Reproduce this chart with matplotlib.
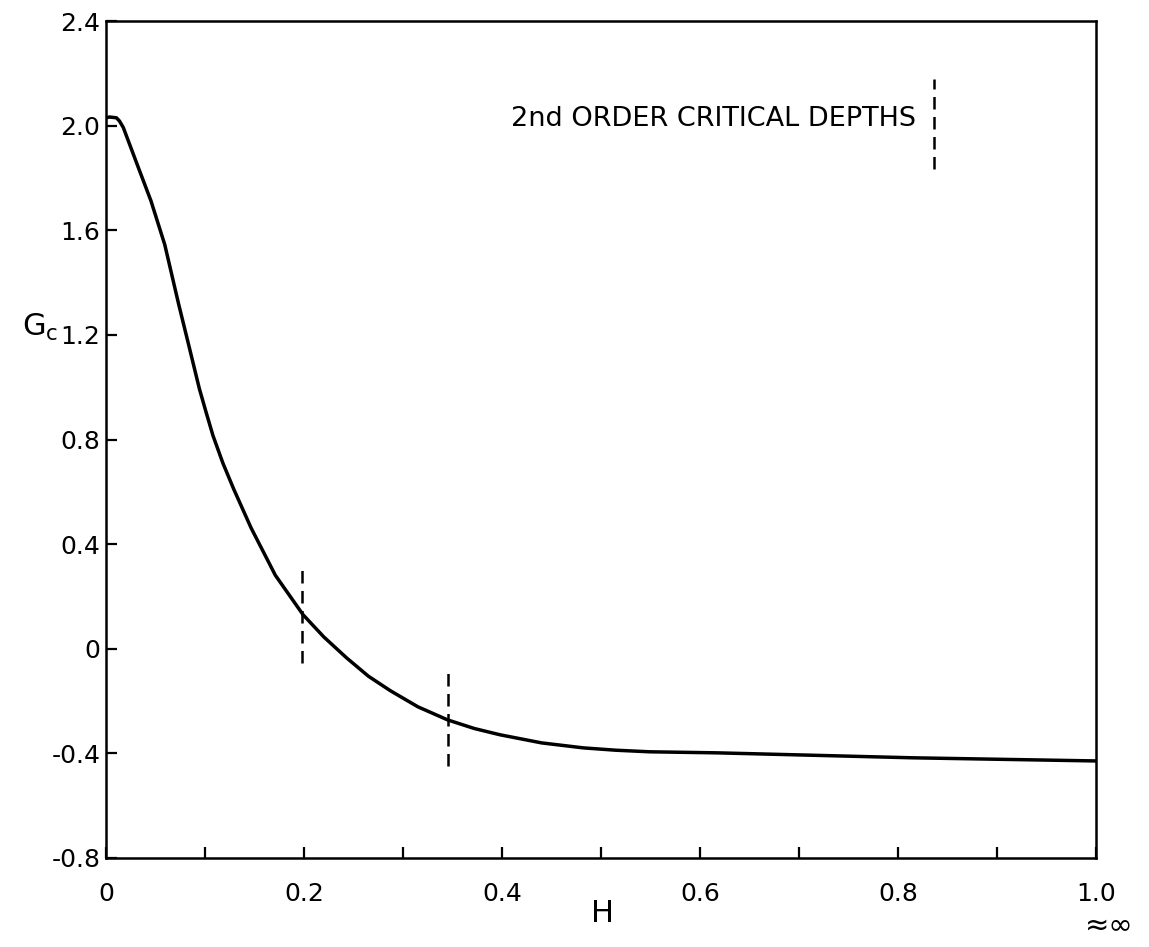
import numpy as np
import matplotlib.pyplot as plt

H = [0.0, 0.0035, 0.0105, 0.0135, 0.0174, 0.0314, 0.0454, 0.0593, 0.0733,
     0.0837, 0.0942, 0.101, 0.108, 0.118, 0.129, 0.1465, 0.171, 0.199, 0.220,
     0.243, 0.265, 0.287, 0.315, 0.345, 0.372, 0.398, 0.44, 0.482, 0.515,
     0.549, 0.617, 0.701, 0.815, 1.0]
Gc = [2.03, 2.033, 2.030, 2.018, 1.993, 1.852, 1.712, 1.545, 1.318,
      1.158, 0.995, 0.905, 0.815, 0.710, 0.610, 0.462, 0.281, 0.130, 0.045,
      -0.035, -0.105, -0.160, -0.222, -0.272, -0.305, -0.329, -0.36, -0.379, -0.388,
      -0.394, -0.398, -0.406, -0.417, -0.429]

# 2nd order critical depth markers: x, y_low, y_high
crit_x = [0.198, 0.345, 0.836]
crit_lo = [-0.055, -0.448, 1.834]
crit_hi = [0.31, -0.085, 2.178]

xticks = [0.0, 0.1, 0.2, 0.3, 0.4, 0.5, 0.6, 0.7, 0.8, 0.9, 1.0]
xlabels = ['0', '', '0.2', '', '0.4', '', '0.6', '', '0.8', '', '1.0']
yticks = [-0.8, -0.4, 0.0, 0.4, 0.8, 1.2, 1.6, 2.0, 2.4]
ylabels = ['-0.8', '-0.4', '0', '0.4', '0.8', '1.2', '1.6', '2.0', '2.4']

fig = plt.figure(figsize=(11.49, 9.47), dpi=100)
ax = fig.add_axes([0.0923, 0.094, 0.8616, 0.8838])

ax.plot(H, Gc, color='black', lw=2.5, solid_joinstyle='round',
        solid_capstyle='round')
for x, lo, hi in zip(crit_x, crit_lo, crit_hi):
    ax.plot([x, x], [lo, hi], color='black', lw=1.8, dashes=(5, 3))

ax.text(0.818, 2.025, '2nd ORDER CRITICAL DEPTHS', fontsize=19.5,
        ha='right', va='center')

ax.set_xlim(0, 1.0)
ax.set_ylim(-0.8, 2.4)
ax.set_xticks(xticks)
ax.set_xticklabels(xlabels)
ax.set_yticks(yticks)
ax.set_yticklabels(ylabels)
ax.tick_params(direction='in', length=8, width=1.6, labelsize=18)
ax.tick_params(axis='x', pad=17)
ax.tick_params(axis='y', pad=4)
for s in ax.spines.values():
    s.set_linewidth(1.8)

fig.text(1109 / 1149, 1 - 926 / 947, '≈∞', fontsize=21, ha='center', va='center')
fig.text(603 / 1149, 1 - 913 / 947, 'H', fontsize=22, ha='center', va='center')
fig.text(58 / 1149, 1 - 327 / 947, r'G$_\mathrm{c}$', fontsize=22,
         ha='right', va='center')

fig.savefig('out.png', dpi=100)
